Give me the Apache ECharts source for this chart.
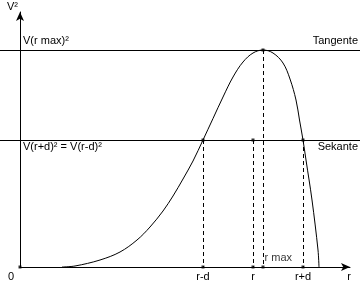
<!DOCTYPE html>
<html><head><meta charset="utf-8">
<script src="https://cdn.jsdelivr.net/npm/echarts@6/dist/echarts.min.js"></script>
<style>html,body{margin:0;padding:0;background:#fff}#c{width:360px;height:289px}</style>
</head><body><div id="c"></div>
<script>
// ---- data (abstract units: r along x, V² along y) ----
const curveR = [42, 55, 80, 100, 117, 130, 143, 153, 163, 173, 183, 193, 203, 213, 223, 233, 243, 253, 263, 270, 276, 279.5, 283, 286, 292, 298, 299];
const curveV2 = [0, 1, 7, 15, 27, 40, 56, 71, 88, 106, 127, 148.5, 170, 190, 205, 214, 217, 214, 204, 188, 167, 147, 127, 107, 67, 17, 0];
const rMinusD = 183, rVal = 233, rMax = 243, rPlusD = 283;
const vMaxSq = 217, vSecSq = 127;
const tickValues = [rMinusD, rVal, rPlusD];
const tickLabels = ['r-d', 'r', 'r+d'];
const xRange = [0, 330], yRange = [0, 255];

const FONT = '"Liberation Sans", Arial, sans-serif';
const chart = echarts.init(document.getElementById('c'));
const curve = curveR.map((x, i) => [x, curveV2[i]]);
const dashed = [rMinusD, rVal, rPlusD].map(x => [{coord: [x, vSecSq]}, {coord: [x, 0]}])
  .concat([[{coord: [rMax, vMaxSq]}, {coord: [rMax, 0]}]]);

chart.setOption({
  animation: false,
  backgroundColor: '#fff',
  textStyle: {fontFamily: FONT, color: '#000'},
  grid: [
    {left: 20, right: 10, top: 12, bottom: 22},
    {left: 0, right: 0, top: 12, bottom: 22}
  ],
  xAxis: [
    {gridIndex: 0, type: 'value', min: xRange[0], max: xRange[1],
     axisLine: {show: true, onZero: false, symbol: ['none', 'arrow'], symbolSize: [6, 9], lineStyle: {color: '#000', width: 1}},
     axisTick: {show: false}, splitLine: {show: false},
     axisLabel: {show: true, customValues: tickValues, margin: 4, fontSize: 11, fontFamily: FONT, color: '#000',
       formatter: v => tickLabels[tickValues.indexOf(v)] || ''},
     name: 'r', nameLocation: 'end', nameGap: -1,
     nameTextStyle: {fontSize: 11, fontFamily: FONT, color: '#000', align: 'center', verticalAlign: 'top', padding: [4, 0, 0, 0]}},
    {gridIndex: 1, type: 'value', min: xRange[0] - 20, max: xRange[1] + 10, show: false}
  ],
  yAxis: [
    {gridIndex: 0, type: 'value', min: yRange[0], max: yRange[1],
     axisLine: {show: true, onZero: false, symbol: ['none', 'arrow'], symbolSize: [6, 9], lineStyle: {color: '#000', width: 1}},
     axisTick: {show: false}, splitLine: {show: false}, axisLabel: {show: false},
     name: 'V²', nameLocation: 'end', nameGap: 0,
     nameTextStyle: {fontSize: 11, fontFamily: FONT, color: '#000', align: 'right', verticalAlign: 'bottom', padding: [0, 2, 0, 0]}},
    {gridIndex: 1, type: 'value', min: yRange[0], max: yRange[1], show: false}
  ],
  series: [
    {type: 'line', xAxisIndex: 1, yAxisIndex: 1, data: curve, smooth: 0.35, symbol: 'none',
     lineStyle: {color: '#000', width: 1}, silent: true, z: 3,
     markLine: {silent: true, symbol: 'none', label: {show: false},
       lineStyle: {color: '#000', width: 1, type: 'solid'},
       data: [{yAxis: vMaxSq}, {yAxis: vSecSq}]}},
    {type: 'line', xAxisIndex: 1, yAxisIndex: 1, data: [], silent: true,
     markLine: {silent: true, symbol: 'none', label: {show: false},
       lineStyle: {color: '#000', width: 1, type: [4, 3]}, data: dashed}},
    {type: 'scatter', xAxisIndex: 1, yAxisIndex: 1, symbol: 'rect', symbolSize: 3, silent: true, z: 4,
     itemStyle: {color: '#000'},
     data: [[rMinusD, vSecSq], [rVal, vSecSq], [rPlusD, vSecSq], [rMax, vMaxSq],
            [rMinusD, 0], [rVal, 0], [rPlusD, 0], [0, 0],
            {value: [rMax, 0], label: {show: true, formatter: 'r max', position: [3, -13], fontSize: 11, fontFamily: FONT, color: '#000'}}]}
  ],
  graphic: [
    {type: 'text', left: 23, top: 35, style: {text: 'V(r max)²', fontSize: 11, fontFamily: FONT, fill: '#000'}},
    {type: 'text', left: 23, top: 141, style: {text: 'V(r+d)² = V(r-d)²', fontSize: 11, fontFamily: FONT, fill: '#000'}},
    {type: 'text', right: 2, top: 35, style: {text: 'Tangente', fontSize: 11, fontFamily: FONT, fill: '#000'}},
    {type: 'text', right: 2, top: 141, style: {text: 'Sekante', fontSize: 11, fontFamily: FONT, fill: '#000'}},
    {type: 'text', left: 8, top: 271, style: {text: '0', fontSize: 11, fontFamily: FONT, fill: '#000'}}
  ]
});
</script></body></html>
